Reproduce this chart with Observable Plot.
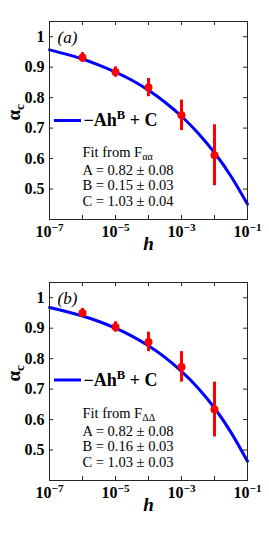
<!DOCTYPE html>
<html><head><meta charset="utf-8">
<script src="https://cdn.jsdelivr.net/npm/d3@7"></script>
<script src="https://cdn.jsdelivr.net/npm/@observablehq/plot@0.6"></script>
<style>
body{margin:0;background:#fff;width:269px;}
#chart svg{display:block;}
#chart svg text{font-family:"Liberation Serif","DejaVu Serif",serif;}
</style></head><body><div id="chart"></div>
<script>
// measured points
const hValues = [1e-6, 1e-5, 1e-4, 1e-3, 1e-2];
const alphaA = [0.932, 0.884, 0.833, 0.742, 0.611];
const errA   = [0.016, 0.017, 0.030, 0.050, 0.100];
const alphaB = [0.950, 0.904, 0.855, 0.773, 0.633];
const errB   = [0.015, 0.017, 0.032, 0.050, 0.090];
// fitted curve read at half decades
const fitH = [1e-7, 3.16e-7, 1e-6, 3.16e-6, 1e-5, 3.16e-5, 1e-4, 3.16e-4, 1e-3, 3.16e-3, 1e-2, 3.16e-2, 1e-1];
const fitA = [0.957, 0.943, 0.927, 0.907, 0.884, 0.857, 0.824, 0.785, 0.739, 0.684, 0.619, 0.542, 0.450];
const fitB = [0.968, 0.955, 0.940, 0.922, 0.900, 0.874, 0.842, 0.804, 0.758, 0.704, 0.638, 0.558, 0.463];
// ticks
const xTicks = [1e-7, 1e-6, 1e-5, 1e-4, 1e-3, 1e-2, 1e-1];
const xTickLabels = ["10^{−7}", "", "10^{−5}", "", "10^{−3}", "", "10^{−1}"];
const yTicks = [0.5, 0.6, 0.7, 0.8, 0.9, 1];
const yTickLabels = ["0.5", "0.6", "0.7", "0.8", "0.9", "1"];
// texts
const panelLabels = ["(a)", "(b)"];
const fitSources = ["Fit from F_{αα}", "Fit from F_{ΔΔ}"];
const paramsA = ["A = 0.82 ± 0.08", "B = 0.15 ± 0.03", "C = 1.03 ± 0.04"];
const paramsB = ["A = 0.82 ± 0.08", "B = 0.16 ± 0.03", "C = 1.03 ± 0.03"];
const legendText = "−Ah^{B} + C";
const legendY = [0.725, 0.730];

const BLUE = "#0000ff", RED = "#ff0000", AXIS = "#262626";
const FONT = "Liberation Serif";

function richify(svg){
  const nodes = [...svg.querySelectorAll("text, tspan")].filter(n =>
    n.childNodes.length === 1 && n.firstChild.nodeType === 3 && /[\^_]\{/.test(n.textContent));
  for (const n of nodes){
    const s = n.textContent;
    n.textContent = "";
    const re = /([\^_])\{([^}]*)\}/g;
    let last = 0, m;
    const add = (txt, kind) => {
      const t = document.createElementNS("http://www.w3.org/2000/svg", "tspan");
      t.textContent = txt;
      if (kind === "^") { t.setAttribute("baseline-shift", "0.55em"); t.setAttribute("font-size", "70%"); }
      if (kind === "_") { t.setAttribute("baseline-shift", "-0.3em"); t.setAttribute("font-size", "70%"); }
      n.appendChild(t);
    };
    while ((m = re.exec(s))) {
      if (m.index > last) add(s.slice(last, m.index));
      add(m[2], m[1]);
      last = re.lastIndex;
    }
    if (last < s.length) add(s.slice(last));
  }
}

function panel(k){
  const W = 269, H = 261, mL = 49, mR = 22, mT = 21, mB = 42;
  const pw = W - mL - mR, ph = H - mT - mB;
  const alpha = k === 0 ? alphaA : alphaB;
  const err = k === 0 ? errA : errB;
  const fitV = k === 0 ? fitA : fitB;
  const params = k === 0 ? paramsA : paramsB;
  const pts = hValues.map((h, i) => ({h, a: alpha[i], e: err[i]}));
  const fit = fitH.map((h, i) => ({h, a: fitV[i]}));
  const svg = Plot.plot({
    width: W, height: H, marginLeft: mL, marginRight: mR, marginTop: mT, marginBottom: mB,
    x: {type: "log", domain: [1e-7, 1e-1]},
    y: {domain: [0.4, 1.05]},
    style: {fontFamily: FONT, background: "white", color: "black"},
    marks: [
      Plot.line(fit, {x: "h", y: "a", stroke: BLUE, strokeWidth: 3, curve: "natural"}),
      Plot.ruleX(pts, {x: "h", y1: d => d.a - d.e, y2: d => d.a + d.e, stroke: RED, strokeWidth: 3}),
      Plot.dot(pts, {x: "h", y: "a", r: 4, fill: RED}),
      Plot.frame({stroke: AXIS}),
      Plot.tickY(yTicks, {y: d => d, insetRight: pw - 4, stroke: AXIS}),
      Plot.tickY(yTicks, {y: d => d, insetLeft: pw - 4, stroke: AXIS}),
      Plot.tickX(xTicks, {x: d => d, insetTop: ph - 4, stroke: AXIS}),
      Plot.tickX(xTicks, {x: d => d, insetBottom: ph - 4, stroke: AXIS}),
      Plot.axisY(yTicks, {tickSize: 0, tickPadding: 5, label: null, fontSize: 16, fontWeight: "bold", fontFamily: FONT,
        tickFormat: d => yTickLabels[yTicks.indexOf(d)]}),
      Plot.axisX(xTicks, {tickSize: 0, tickPadding: 6, label: null, fontSize: 16, fontWeight: "bold", fontFamily: FONT,
        tickFormat: d => xTickLabels[xTicks.indexOf(d)]}),
      Plot.text(["α_{c}"], {frameAnchor: "left", dx: -36, rotate: -90, fontSize: 19, fontWeight: "bold", fontFamily: FONT}),
      Plot.text(["h"], {frameAnchor: "bottom", dy: 30, fontSize: 19, fontWeight: "bold", fontStyle: "italic", fontFamily: FONT}),
      Plot.text([panelLabels[k]], {frameAnchor: "top-left", dx: 8, dy: 16, fontSize: 17, fontStyle: "italic", fontFamily: FONT, textAnchor: "start", lineAnchor: "middle"}),
      Plot.ruleY([legendY[k]], {insetLeft: 5, insetRight: pw - 32, stroke: BLUE, strokeWidth: 3}),
      Plot.text([legendText], {frameAnchor: "left", y: legendY[k], dx: 34, fontSize: 18, fontWeight: "bold", fontFamily: FONT, textAnchor: "start"}),
      Plot.text([fitSources[k]], {frameAnchor: "top-left", dx: 33, dy: 131, fontSize: 14.5, fontFamily: FONT, textAnchor: "start", lineAnchor: "middle"}),
      Plot.text([params.join("\n")], {frameAnchor: "top-left", dx: 33, dy: 142, fontSize: 14.5, fontFamily: FONT, lineHeight: 1.08, textAnchor: "start", lineAnchor: "top"})
    ]
  });
  richify(svg);
  return svg;
}

const chart = document.getElementById("chart");
chart.appendChild(panel(0));
chart.appendChild(panel(1));
</script>
</body></html>
